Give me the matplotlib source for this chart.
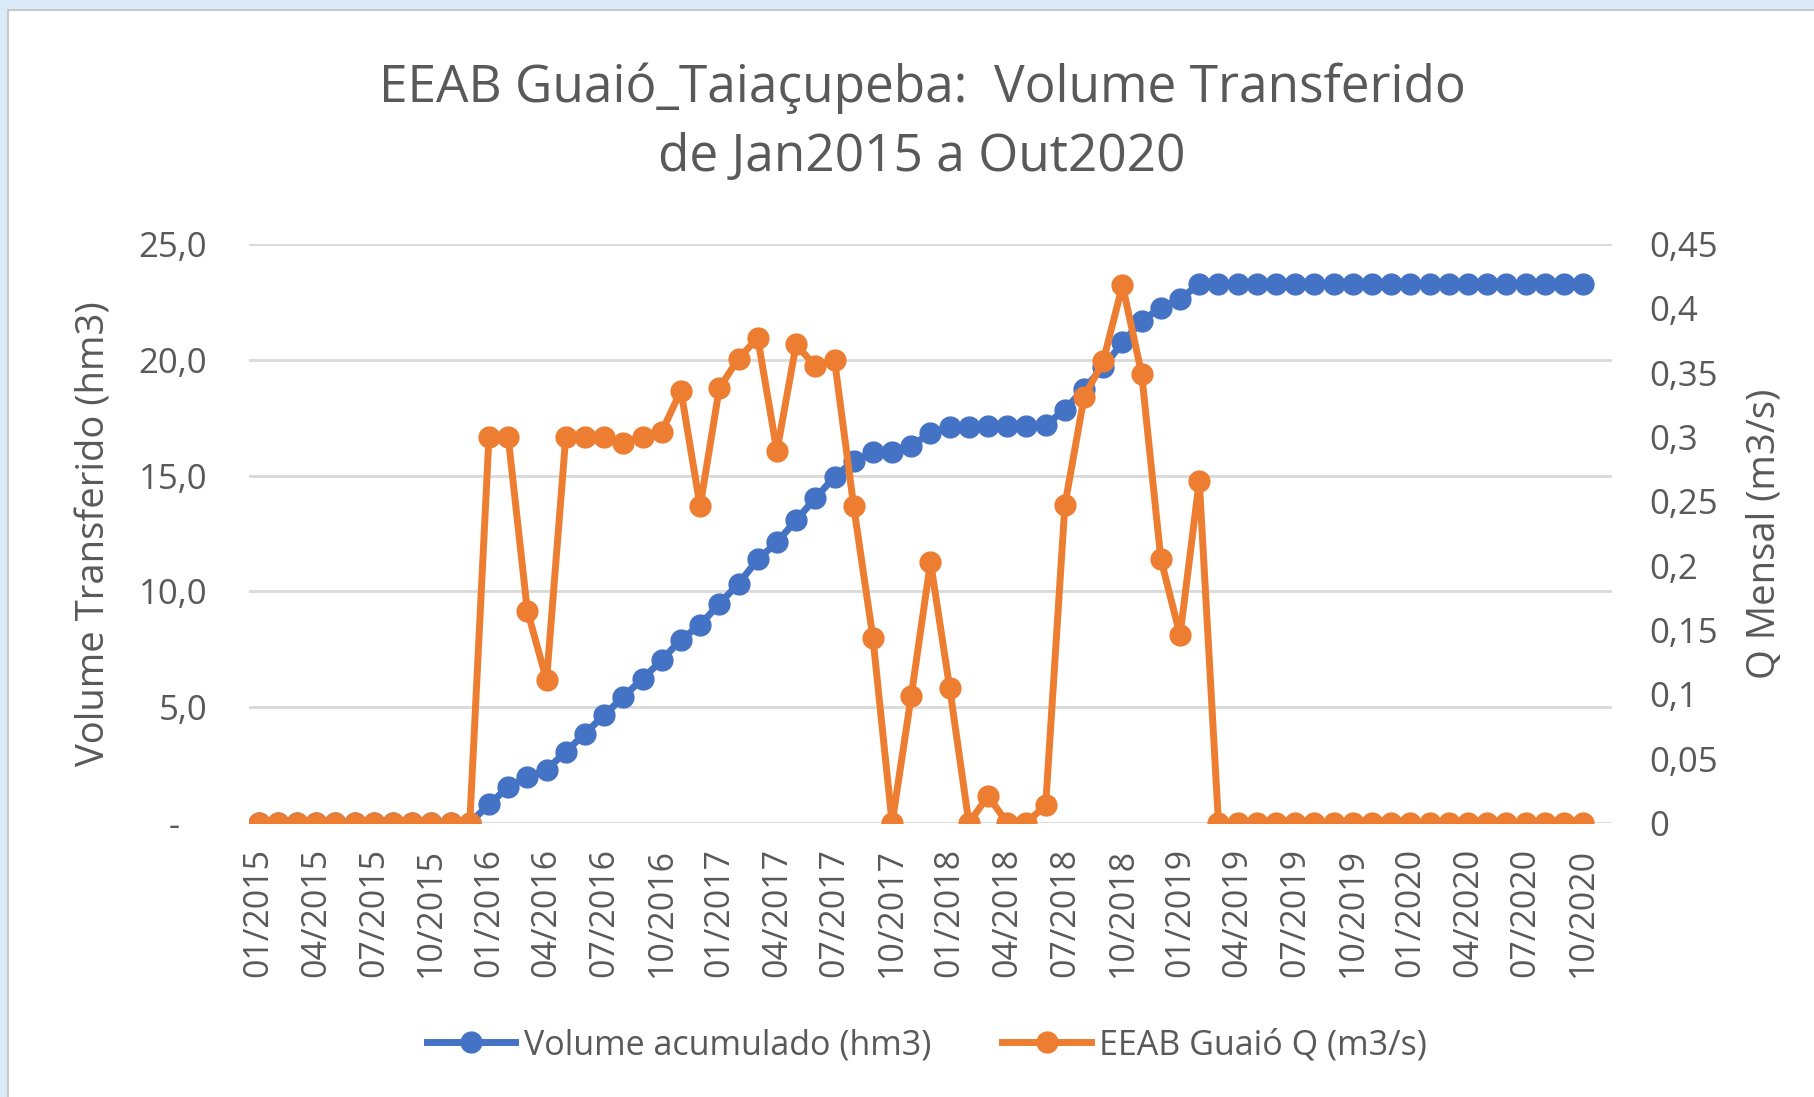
import matplotlib
matplotlib.use('Agg')
import matplotlib.pyplot as plt
from matplotlib.patches import Rectangle
from matplotlib.lines import Line2D

# monthly points, 01/2015 .. 10/2020 (index 0..69)
volume_hm3 = [
    0.0, 0.0, 0.0, 0.0, 0.0, 0.0, 0.0, 0.0, 0.0, 0.0, 0.0, 0.0,
    0.80, 1.55, 1.99, 2.30, 3.08, 3.86, 4.66, 5.45, 6.23, 7.03, 7.92, 8.55,
    9.47, 10.33, 11.38, 12.12, 13.08, 14.02, 14.95, 15.62, 16.00, 16.00, 16.28, 16.85,
    17.10, 17.10, 17.15, 17.15, 17.15, 17.18, 17.85, 18.75, 19.68, 20.75, 21.68, 22.25,
    22.63, 23.27, 23.27, 23.27, 23.27, 23.27, 23.27, 23.27, 23.27, 23.27, 23.27, 23.27,
    23.27, 23.27, 23.27, 23.27, 23.27, 23.27, 23.27, 23.27, 23.27, 23.27,
]
vazao_m3s = [
    0, 0, 0, 0, 0, 0, 0, 0, 0, 0, 0, 0,
    0.300, 0.300, 0.165, 0.111, 0.300, 0.300, 0.300, 0.295, 0.300, 0.304, 0.336, 0.246,
    0.338, 0.361, 0.377, 0.289, 0.372, 0.355, 0.360, 0.246, 0.144, 0.0, 0.099, 0.203,
    0.105, 0.0, 0.021, 0.0, 0.0, 0.014, 0.247, 0.331, 0.359, 0.418, 0.349, 0.205,
    0.146, 0.266, 0, 0, 0, 0, 0, 0, 0, 0, 0, 0,
    0, 0, 0, 0, 0, 0, 0, 0, 0, 0,
]
tick_labels = [
    '01/2015', '04/2015', '07/2015', '10/2015',
    '01/2016', '04/2016', '07/2016', '10/2016',
    '01/2017', '04/2017', '07/2017', '10/2017',
    '01/2018', '04/2018', '07/2018', '10/2018',
    '01/2019', '04/2019', '07/2019', '10/2019',
    '01/2020', '04/2020', '07/2020', '10/2020',
]
left_ticks = [0, 5, 10, 15, 20, 25]
left_labels = ['-   ', '5,0', '10,0', '15,0', '20,0', '25,0']
right_ticks = [0, 0.05, 0.1, 0.15, 0.2, 0.25, 0.3, 0.35, 0.4, 0.45]
right_labels = ['0', '0,05', '0,1', '0,15', '0,2', '0,25', '0,3', '0,35', '0,4', '0,45']

BLUE = '#4472C4'
ORANGE = '#ED7D31'
GRAY = '#595959'
plt.rcParams['font.family'] = ['Open Sans', 'DejaVu Sans']

fig = plt.figure(figsize=(18.15, 10.97), dpi=100)
fig.patch.set_facecolor('#DCEBF8')
# white chart area with thin gray border
fig.patches.append(Rectangle((8 / 1815, -0.01), 1.02, 1 - 10 / 1097 + 0.01,
                             transform=fig.transFigure, facecolor='white',
                             edgecolor='#C8C8C8', linewidth=1.5, zorder=-10))

ax = fig.add_axes([249 / 1815, 1 - 823 / 1097, (1612 - 249) / 1815, (823 - 244) / 1097])
ax.set_facecolor('none')
ax2 = ax.twinx()

x = list(range(len(volume_hm3)))
ax.plot(x, volume_hm3, color=BLUE, lw=5, marker='o', ms=15, zorder=3)
ax2.plot(x, vazao_m3s, color=ORANGE, lw=5, marker='o', ms=15, zorder=3)

ax.set_xlim(-0.5, 70.5)
ax.set_ylim(0, 25)
ax2.set_ylim(0, 0.45)

ax.set_xticks(list(range(0, 70, 3)))
ax.set_xticklabels(tick_labels, rotation=90, fontsize=24.5, color=GRAY)
ax.set_yticks(left_ticks)
ax.set_yticklabels(left_labels, fontsize=25, color=GRAY)
ax2.set_yticks(right_ticks)
ax2.set_yticklabels(right_labels, fontsize=25, color=GRAY)

ax.tick_params(axis='x', length=0, pad=18)
ax.tick_params(axis='y', length=0, pad=30)
ax2.tick_params(axis='y', length=0, pad=27)

ax.grid(axis='y', color='#D9D9D9', lw=2)
ax.set_axisbelow(True)
for a in (ax, ax2):
    for s in a.spines.values():
        s.set_visible(False)

ax.set_ylabel('Volume Transferido (hm3)', fontsize=27.5, color=GRAY, labelpad=18)
ax2.set_ylabel('Q Mensal (m3/s)', fontsize=27.5, color=GRAY, labelpad=20)

fig.text(922 / 1815, 1 - 88 / 1097, 'EEAB Guaió_Taiaçupeba:  Volume Transferido',
         ha='center', va='center', fontsize=37, color=GRAY)
fig.text(922 / 1815, 1 - 158 / 1097, 'de Jan2015 a Out2020',
         ha='center', va='center', fontsize=37, color=GRAY)

handles = [Line2D([], [], color=BLUE, lw=5, marker='o', ms=15),
           Line2D([], [], color=ORANGE, lw=5, marker='o', ms=15)]
fig.legend(handles, ['Volume acumulado (hm3)', 'EEAB Guaió Q (m3/s)'],
           loc='center', bbox_to_anchor=(927 / 1815, 1 - 1045 / 1097), ncol=2,
           frameon=False, fontsize=24.5, handlelength=2.6, handletextpad=0.25,
           columnspacing=2.1, labelcolor=GRAY)

fig.savefig('out.png', dpi=100, facecolor=fig.get_facecolor())
